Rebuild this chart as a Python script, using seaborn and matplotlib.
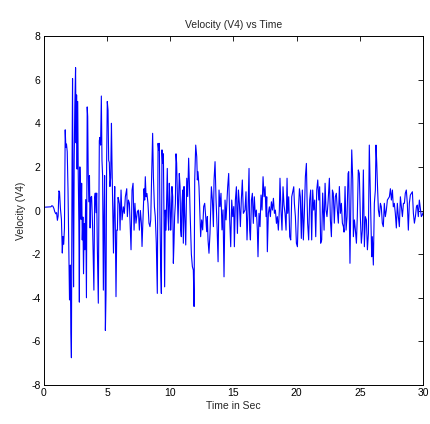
import matplotlib
matplotlib.use("Agg")
import matplotlib.pyplot as plt
import seaborn as sns
import pandas as pd

# Recorded velocity channel V4 (time in s, velocity)
time_s = [
    0.0, 0.3, 0.55, 0.62, 0.7, 0.78, 0.85, 0.93, 1.0, 1.06, 1.12, 1.18, 1.23, 1.3, 1.38,
    1.45, 1.5, 1.56, 1.62, 1.68, 1.73, 1.78, 1.84, 1.9, 1.96, 2.02, 2.08, 2.13, 2.17, 2.22,
    2.26, 2.3, 2.34, 2.39, 2.44, 2.5, 2.54, 2.58, 2.62, 2.67, 2.71, 2.76, 2.8, 2.84, 2.88,
    2.93, 2.98, 3.03, 3.08, 3.13, 3.18, 3.24, 3.3, 3.36, 3.42, 3.46, 3.5, 3.55, 3.6, 3.65,
    3.7, 3.77, 3.85, 3.95, 4.01, 4.06, 4.12, 4.17, 4.22, 4.3, 4.38, 4.42, 4.48, 4.54, 4.59,
    4.64, 4.7, 4.75, 4.8, 4.86, 4.91, 4.96, 5.01, 5.07, 5.12, 5.17, 5.22, 5.28, 5.34, 5.38,
    5.44, 5.5, 5.55, 5.6, 5.65, 5.7, 5.76, 5.81, 5.86, 5.91, 5.97, 6.02, 6.1, 6.18, 6.28,
    6.36, 6.44, 6.55, 6.6, 6.68, 6.76, 6.84, 6.89, 6.97, 7.05, 7.13, 7.2, 7.28, 7.39, 7.47,
    7.55, 7.63, 7.71, 7.76, 7.84, 7.92, 7.97, 8.02, 8.08, 8.15, 8.23, 8.31, 8.39, 8.45, 8.52,
    8.6, 8.66, 8.74, 8.81, 8.89, 8.97, 9.03, 9.08, 9.13, 9.18, 9.24, 9.29, 9.34, 9.39, 9.45,
    9.5, 9.55, 9.6, 9.66, 9.71, 9.76, 9.82, 9.87, 9.92, 9.98, 10.03, 10.08, 10.13, 10.19, 10.24,
    10.29, 10.34, 10.4, 10.45, 10.5, 10.56, 10.61, 10.66, 10.71, 10.77, 10.82, 10.87, 10.92, 10.98, 11.03,
    11.085, 11.14, 11.22, 11.3, 11.375, 11.45, 11.51, 11.56, 11.665, 11.745, 11.82, 11.88, 11.93, 12.01, 12.09,
    12.14, 12.19, 12.27, 12.35, 12.4, 12.48, 12.56, 12.64, 12.72, 12.8, 12.88, 12.93, 12.985, 13.06, 13.14,
    13.25, 13.33, 13.41, 13.46, 13.54, 13.62, 13.7, 13.78, 13.855, 13.93, 14.01, 14.09, 14.17, 14.25, 14.33,
    14.41, 14.46, 14.54, 14.62, 14.7, 14.78, 14.86, 14.94, 15.02, 15.07, 15.15, 15.23, 15.31, 15.39, 15.465,
    15.545, 15.62, 15.7, 15.78, 15.91, 15.99, 16.07, 16.15, 16.23, 16.28, 16.34, 16.42, 16.495, 16.57, 16.65,
    16.73, 16.81, 16.89, 16.94, 17.02, 17.1, 17.18, 17.26, 17.34, 17.42, 17.5, 17.58, 17.63, 17.68, 17.76,
    17.84, 17.92, 18.0, 18.08, 18.16, 18.24, 18.315, 18.4, 18.47, 18.55, 18.63, 18.68, 18.76, 18.84, 18.92,
    19.0, 19.08, 19.16, 19.24, 19.29, 19.37, 19.45, 19.53, 19.61, 19.69, 19.77, 19.82, 19.9, 19.98, 20.06,
    20.14, 20.22, 20.29, 20.37, 20.45, 20.53, 20.61, 20.69, 20.77, 20.82, 20.87, 20.95, 21.03, 21.11, 21.19,
    21.27, 21.35, 21.43, 21.51, 21.59, 21.67, 21.75, 21.82, 21.9, 21.98, 22.06, 22.17, 22.25, 22.325, 22.4,
    22.48, 22.59, 22.67, 22.75, 22.83, 22.9, 22.98, 23.06, 23.14, 23.22, 23.3, 23.38, 23.46, 23.54, 23.62,
    23.7, 23.75, 23.83, 23.91, 23.99, 24.07, 24.12, 24.17, 24.22, 24.28, 24.36, 24.44, 24.49, 24.57, 24.65,
    24.73, 24.8, 24.88, 24.96, 25.04, 25.12, 25.2, 25.28, 25.36, 25.44, 25.52, 25.6, 25.68, 25.75, 25.81,
    25.86, 25.94, 25.99, 26.07, 26.15, 26.23, 26.28, 26.34, 26.39, 26.47, 26.55, 26.63, 26.7, 26.78, 26.86,
    26.94, 27.02, 27.1, 27.18, 27.26, 27.34, 27.42, 27.5, 27.58, 27.65, 27.73, 27.81, 27.89, 27.97, 28.05,
    28.13, 28.21, 28.29, 28.37, 28.45, 28.53, 28.6, 28.68, 28.76, 28.84, 28.92, 29.0, 29.08, 29.16, 29.24,
    29.32, 29.4, 29.48, 29.55, 29.63, 29.71, 29.79, 29.87, 29.95, 30.0,
]

velocity_v4 = [
    0.15, 0.16, 0.17, 0.22, 0.2, 0.1, -0.05, -0.15, -0.1, -0.45, -0.25, 0.9, 0.85, 0.1, -0.4,
    -1.95, -1.2, -1.55, -0.8, 3.7, 2.9, 3.05, 2.7, 1.0, -1.5, -4.1, -2.5, -5.6, -6.75, 2.0,
    6.05, 0.0, -3.5, 2.3, 4.8, 6.55, 3.1, 5.3, 1.9, 5.0, 1.8, -0.6, -4.2, 2.0, 0.8,
    -0.4, 1.25, -1.35, -0.3, -2.9, -0.6, -1.8, 0.5, -4.0, 4.75, 4.3, 1.7, 0.4, 1.6, -0.8,
    0.6, 0.65, -0.8, -3.65, 0.6, 0.8, -0.1, 0.8, -1.6, -4.25, 3.2, 3.35, 3.0, 5.25, 2.3,
    1.6, -3.65, -0.3, 1.6, -5.5, -3.8, 2.3, 5.0, 4.6, 2.3, 2.2, 1.1, 1.5, 4.0, 2.3,
    0.25, -1.95, 0.0, 1.1, -0.9, -3.95, -0.9, -0.9, 0.6, 0.5, 0.3, -0.9, 0.94, -0.43, 0.17,
    -0.13, 0.63, 1.0, -0.28, 0.48, 0.33, -0.9, -1.8, 0.94, 1.25, -0.9, 0.33, -0.58, -0.05, 0.02,
    -0.9, 0.0, -0.6, -1.65, -0.28, 1.0, 0.48, 1.55, 0.63, 0.78, 0.33, -0.58, -0.74, -0.43, 1.55,
    3.54, 1.55, 0.17, -0.28, -1.5, -3.8, 3.08, 2.78, 3.08, -0.28, -2.73, -3.8, 2.78, 2.17, 2.6,
    -0.28, -3.5, 0.02, -0.9, 0.63, 1.93, -0.28, -0.9, 1.25, 0.33, -0.9, -0.28, 1.1, 0.63, -2.42,
    -1.5, -0.28, 0.33, 2.6, 2.17, 0.63, -0.58, 0.63, 1.7, 1.1, -0.9, -1.2, 0.33, 0.94, -1.5,
    1.1, -0.13, -1.58, 1.48, 0.64, 2.4, 1.24, 0.03, -2.0, -2.57, -2.73, -4.4, 1.4, 3.0, 2.47,
    1.4, 1.78, 1.09, -0.28, -1.2, -0.43, -0.89, 0.18, 0.33, -0.28, -0.97, -0.28, -1.35, -1.96, -1.05,
    1.09, 0.48, -0.74, 1.4, 2.24, 0.48, -0.74, -2.35, 0.94, 0.18, 0.79, -0.89, 0.03, -3.04, 0.48,
    -0.43, 0.18, 1.09, 1.7, -0.43, -1.66, 0.48, -0.28, 0.18, -1.66, 0.48, 1.09, -1.05, 0.94, 0.33,
    -0.74, 0.48, 1.4, -0.13, 0.02, 0.86, -1.35, 0.02, 1.93, -0.9, -1.35, 0.48, 0.79, -0.59, 0.63,
    -0.28, 0.02, -0.9, -2.12, -0.13, -0.74, 0.71, 0.02, 1.55, 0.63, 1.09, -0.28, 0.63, -1.89, -0.13,
    0.17, -0.28, 0.4, 0.02, 0.56, -0.13, 0.02, -0.59, -0.28, -0.9, 0.02, 1.48, 0.02, -0.9, 1.09,
    0.25, -0.13, -0.9, 1.48, -0.13, 0.63, -1.2, -1.35, 0.63, 0.86, 1.09, 0.33, -0.28, -1.5, -1.66,
    0.02, 1.0, 0.63, -1.28, 0.94, -1.35, -0.13, 1.55, 2.16, 0.63, -0.59, -1.35, 0.48, 0.94, -1.35,
    0.94, 0.02, 0.48, -1.2, 0.94, 1.4, 0.48, 1.09, -1.5, -1.35, 0.8, -0.9, 1.25, 0.02, -0.28,
    0.33, 1.48, -0.43, -1.2, 0.94, 0.79, -0.58, 0.63, 0.79, 0.02, -0.58, 1.1, -0.13, 0.33, -0.58,
    -0.74, -0.99, 1.1, -0.9, -0.28, 1.7, 1.78, -0.28, -2.42, 0.02, 2.78, 1.4, -1.2, -0.43, -0.9,
    -1.5, -0.28, 1.86, 1.7, -0.28, -1.5, -0.9, 1.86, -1.66, -0.28, -0.43, -1.8, -1.05, 3.0, 1.4,
    -0.13, -2.12, -1.2, -2.5, 0.33, 0.94, 3.0, 2.17, 1.25, 0.02, -0.28, 0.33, 0.17, -0.58, -0.74,
    0.33, -0.28, 0.02, 0.48, 0.56, 0.63, 1.0, 0.48, 0.94, 0.17, 0.33, -0.13, -0.8, 0.33, -0.28,
    -0.74, 0.63, 0.17, -0.28, 0.33, 0.33, 0.79, 0.94, 0.33, -0.9, 0.33, 0.71, 0.79, 0.86, -0.13,
    -0.58, -0.28, 0.17, 0.25, -0.28, 0.48, 0.1, -0.28, -0.2, -0.1,
]

x_ticks = [0, 5, 10, 15, 20, 25, 30]
y_ticks = [-8, -6, -4, -2, 0, 2, 4, 6, 8]

sns.set_style("white")
plt.rcParams["font.family"] = ["Liberation Sans", "DejaVu Sans"]
plt.rcParams["font.size"] = 7.5

df = pd.DataFrame({"Time in Sec": time_s, "Velocity (V4)": velocity_v4})

fig = plt.figure(figsize=(4.30, 4.24), dpi=100)
ax = fig.add_axes([0.1023, 0.092, 0.8814, 0.823])

sns.lineplot(data=df, x="Time in Sec", y="Velocity (V4)", ax=ax,
             color="#0000ff", linewidth=0.8, estimator=None, sort=False)

ax.set_xlim(0, 30)
ax.set_ylim(-8, 8)
ax.set_xticks(x_ticks)
ax.set_yticks(y_ticks)
ax.set_xticklabels([str(v) for v in x_ticks])
ax.set_yticklabels([str(v) for v in y_ticks])
ax.tick_params(direction="in", length=3.5, width=0.6, top=True, right=True,
               labelsize=7.5, colors="black", pad=2.5)
for spine in ax.spines.values():
    spine.set_visible(True)
    spine.set_color("black")
    spine.set_linewidth(0.7)

ax.set_title("Velocity (V4) vs Time", fontsize=7.5, pad=6)
ax.set_xlabel("Time in Sec", fontsize=7.5, labelpad=2)
ax.set_ylabel("Velocity (V4)", fontsize=7.5, labelpad=4)

fig.savefig("out.png", dpi=100, facecolor="white")
